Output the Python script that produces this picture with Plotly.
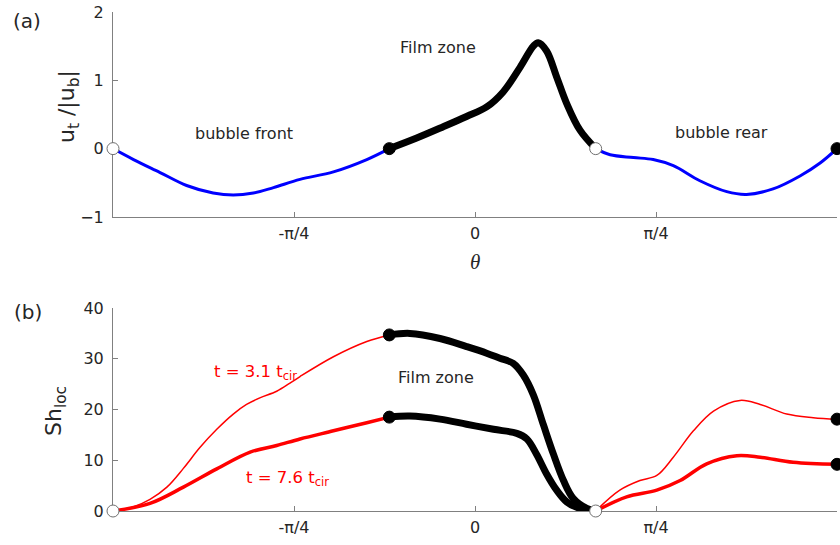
import numpy as np
import plotly.graph_objects as go

# ---------------- data (theta in degrees) ----------------
# (a) tangential velocity along the bubble surface
front_theta = [-90, -84.9, -78.3, -71.7, -65.1, -60.1, -55.1, -50.1, -43.5, -35.2, -26.9, -21.3]
front_u = [0, -0.16, -0.35, -0.54, -0.65, -0.68, -0.65, -0.57, -0.45, -0.34, -0.16, 0]

film_theta = [-21.3, -14.5, -7.9, -2.1, 2.9, 7.0, 11.2, 14.5, 15.7, 17.8, 20.3, 22.8, 26.1, 30]
film_u = [0, 0.155, 0.32, 0.47, 0.61, 0.83, 1.19, 1.50, 1.55, 1.43, 1.05, 0.66, 0.27, 0]

rear_theta = [30, 33.6, 39.4, 44.3, 49.3, 55.9, 62.6, 67.5, 74.1, 80.8, 85.8, 90]
rear_u = [0, -0.09, -0.13, -0.16, -0.25, -0.47, -0.63, -0.67, -0.59, -0.40, -0.21, 0]

# (b) local Sherwood number at two times
sh31_front_theta = [-90, -85, -80.8, -76.6, -72.5, -68.4, -64.2, -60.1, -56.8, -53.5,
                    -49.3, -46, -43.5, -35.2, -26.9, -21.3]
sh31_front = [0, 0.8, 2.3, 4.7, 8.4, 12.5, 16.1, 19.1, 21.0, 22.3,
              23.6, 25.2, 26.5, 30.4, 33.4, 34.7]
sh31_film_theta = [-21.3, -16.2, -8.7, -2.1, 2.9, 6.2, 9.5, 12.0, 14.5, 17.0, 19.5, 22.0, 24.4, 27.8, 30]
sh31_film = [34.7, 35.0, 34.0, 32.4, 31.1, 30.1, 29.1, 26.8, 22.9, 17.0, 11.2, 6.0, 2.5, 0.5, 0]
sh31_rear_theta = [30, 36, 41, 45.2, 49.3, 54.3, 59.3, 65.9, 70.9, 77.5, 84.1, 90]
sh31_rear = [0, 4.1, 6.0, 7.0, 10.6, 15.8, 19.7, 21.8, 21.0, 19.1, 18.4, 18.1]

sh76_front_theta = [-90, -80.8, -72.5, -64.2, -55.9, -49.3, -43.5, -35.2, -26.9, -21.3]
sh76_front = [0, 1.5, 4.7, 8.3, 11.6, 12.9, 14.2, 15.8, 17.4, 18.5]
sh76_film_theta = [-21.3, -16.2, -8.7, -2.1, 4.6, 10.4, 12.9, 15.3, 17.8, 20.3, 22.8, 26.1, 30]
sh76_film = [18.5, 18.7, 18.1, 17.1, 16.1, 15.3, 14.2, 11.2, 7.3, 4.1, 1.8, 0.5, 0]
sh76_rear_theta = [30, 37.7, 45.2, 51, 57.6, 65.1, 70.9, 79.1, 90]
sh76_rear = [0, 2.8, 4.1, 6.0, 9.3, 10.9, 10.6, 9.6, 9.2]

tick_vals_deg = [-45, 0, 45]
tick_text = ["-\u03c0/4", "0", "\u03c0/4"]

rad = np.deg2rad

# ---------------- layout geometry ----------------
W, H = 840, 545
ML, MR, MT, MB = 113, 3, 7, 34
PW, PH = W - ML - MR, H - MT - MB


def px(x, y):
    """pixel position -> paper coordinates"""
    return (x - ML) / PW, (H - MB - y) / PH


top_dom = [px(0, 214)[1], 1.0]
bot_dom = [0.0, px(0, 306)[1]]

fig = go.Figure()

BLUE, RED, BLACK = "#0000ff", "#ff0000", "#000000"
SPL = dict(shape="spline", smoothing=1.0)


def line(xs, ys, color, width, ax):
    fig.add_trace(go.Scatter(
        x=rad(xs), y=ys, mode="lines", xaxis=ax[0], yaxis=ax[1],
        line=dict(color=color, width=width, **SPL),
        hoverinfo="skip", showlegend=False, cliponaxis=False))


TOP, BOT = ("x", "y"), ("x2", "y2")

line(front_theta, front_u, BLUE, 3, TOP)
line(rear_theta, rear_u, BLUE, 3, TOP)
line(film_theta, film_u, BLACK, 7, TOP)

line(sh31_front_theta, sh31_front, RED, 1.5, BOT)
line(sh31_rear_theta, sh31_rear, RED, 1.5, BOT)
line(sh76_front_theta, sh76_front, RED, 3.5, BOT)
line(sh76_rear_theta, sh76_rear, RED, 3.5, BOT)
line(sh31_film_theta, sh31_film, BLACK, 7, BOT)
line(sh76_film_theta, sh76_film, BLACK, 7, BOT)


def dots(xs, ys, ax, filled):
    fig.add_trace(go.Scatter(
        x=rad(xs), y=ys, mode="markers", xaxis=ax[0], yaxis=ax[1],
        marker=dict(size=12,
                    color=BLACK if filled else "#ffffff",
                    line=dict(color=BLACK if filled else "#707070", width=1)),
        hoverinfo="skip", showlegend=False, cliponaxis=False))


# film-zone start and bubble-rear end: filled; bubble nose and film end: open
dots([film_theta[0], rear_theta[-1]], [film_u[0], rear_u[-1]], TOP, True)
dots([front_theta[0], film_theta[-1]], [front_u[0], film_u[-1]], TOP, False)
dots([sh31_film_theta[0], sh76_film_theta[0], sh31_rear_theta[-1], sh76_rear_theta[-1]],
     [sh31_film[0], sh76_film[0], sh31_rear[-1], sh76_rear[-1]], BOT, True)
dots([sh31_front_theta[0], sh31_film_theta[-1]], [sh31_front[0], sh31_film[-1]], BOT, False)

AX = "#808080"
TXT = "#262626"
FONT = "DejaVu Sans"

xcommon = dict(range=[-np.pi / 2, np.pi / 2], tickvals=rad(tick_vals_deg), ticktext=tick_text,
               showline=True, linecolor=AX, linewidth=1, ticks="inside", ticklen=5,
               tickcolor=AX, showgrid=False, zeroline=False, layer="below traces",
               tickfont=dict(family=FONT, size=16, color=TXT), ticklabelstandoff=2)
ycommon = dict(showline=True, linecolor=AX, linewidth=1, ticks="inside", ticklen=5,
               tickcolor=AX, showgrid=False, zeroline=False, layer="below traces",
               tickfont=dict(family=FONT, size=16, color=TXT), ticklabelstandoff=5)

fig.update_layout(
    width=W, height=H, margin=dict(l=ML, r=MR, t=MT, b=MB),
    paper_bgcolor="white", plot_bgcolor="white",
    xaxis=dict(domain=[0, 1], anchor="y", **xcommon),
    yaxis=dict(domain=top_dom, anchor="x", range=[-1, 2], tickvals=[-1, 0, 1, 2], **ycommon),
    xaxis2=dict(domain=[0, 1], anchor="y2", **xcommon),
    yaxis2=dict(domain=bot_dom, anchor="x2", range=[0, 40], tickvals=[0, 10, 20, 30, 40], **ycommon),
)


def note(text, x, y, size=16, color=TXT, angle=0, family=FONT, xanchor="center"):
    xp, yp = px(x, y)
    fig.add_annotation(text=text, x=xp, y=yp, xref="paper", yref="paper",
                       xanchor=xanchor, yanchor="middle", showarrow=False,
                       textangle=angle, font=dict(family=family, size=size, color=color))


note("(a)", 27, 16, size=20)
note("(b)", 28, 310, size=20)
note("Film zone", 438, 43)
note("bubble front", 244, 130)
note("bubble rear", 721, 129)
note("Film zone", 436, 376)
note("t = 3.1 t<sub>cir</sub>", 212, 371, color=RED, xanchor="left", size=16.5)
note("t = 7.6 t<sub>cir</sub>", 244, 478, color=RED, xanchor="left", size=16.5)
note("<i>\u03b8</i>", 475, 260, size=21, family="Liberation Serif")
note("u<sub>t</sub> /|u<sub>b</sub>|", 68, 103, size=22, angle=-90)
note("Sh<sub>loc</sub>", 55, 410, size=22, angle=-90)

fig.write_html("out.html")
